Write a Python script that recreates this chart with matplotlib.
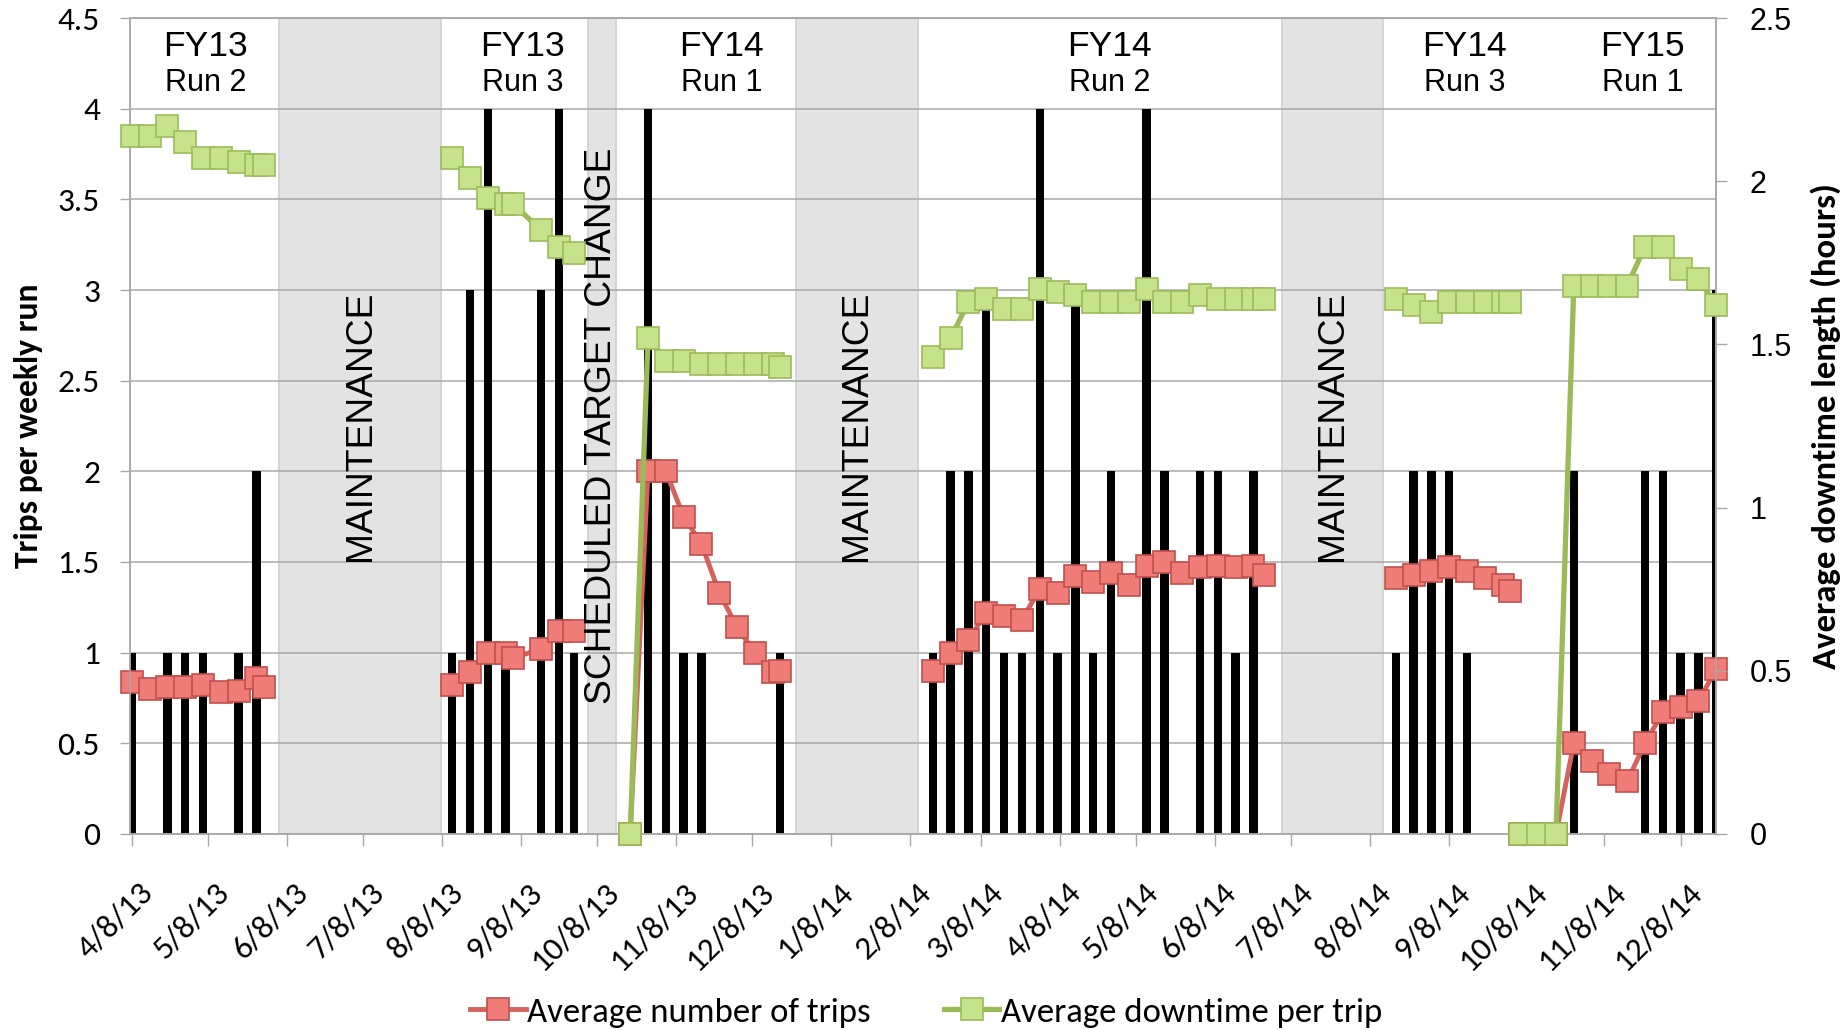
import pandas as pd
import numpy as np
import matplotlib
matplotlib.use('Agg')
import matplotlib.pyplot as plt
import matplotlib.dates as mdates
import matplotlib.transforms as mtransforms
from matplotlib import font_manager

installed = {f.name for f in font_manager.fontManager.ttflist}
calibri_like = 'Carlito' if 'Carlito' in installed else 'Lato'
narrow_font = 'Liberation Sans Narrow' if 'Liberation Sans Narrow' in installed else 'Liberation Sans'
narrow_size = 30 if narrow_font == 'Liberation Sans Narrow' else 26.8

# one entry per weekly run
week = [
    # FY13 run 2
    '2013-04-08', '2013-04-15', '2013-04-22', '2013-04-29', '2013-05-06',
    '2013-05-13', '2013-05-20', '2013-05-27', '2013-05-30',
    # FY13 run 3
    '2013-08-12', '2013-08-19', '2013-08-26', '2013-09-02', '2013-09-05',
    '2013-09-16', '2013-09-23', '2013-09-29',
    # FY14 run 1
    '2013-10-21', '2013-10-28', '2013-11-04', '2013-11-11', '2013-11-18',
    '2013-11-25', '2013-12-02', '2013-12-09', '2013-12-16', '2013-12-19',
    # FY14 run 2
    '2014-02-17', '2014-02-24', '2014-03-03', '2014-03-10', '2014-03-17',
    '2014-03-24', '2014-03-31', '2014-04-07', '2014-04-14', '2014-04-21',
    '2014-04-28', '2014-05-05', '2014-05-12', '2014-05-19', '2014-05-26',
    '2014-06-02', '2014-06-09', '2014-06-16', '2014-06-23', '2014-06-27',
    # FY14 run 3
    '2014-08-18', '2014-08-25', '2014-09-01', '2014-09-08', '2014-09-15',
    '2014-09-22', '2014-09-29', '2014-10-02',
    # FY15 run 1
    '2014-10-06', '2014-10-13', '2014-10-20', '2014-10-27', '2014-11-03',
    '2014-11-10', '2014-11-17', '2014-11-24', '2014-12-01', '2014-12-08',
    '2014-12-15', '2014-12-22',
]
run_sizes = [9, 8, 10, 20, 8, 12]  # number of weeks in each run

trips = [1, 0, 1, 1, 1, 0, 1, 2, 0,
         1, 3, 4, 1, 0, 3, 4, 1,
         0, 4, 2, 1, 1, 0, 0, 0, 0, 1,
         1, 2, 2, 3, 1, 1, 4, 1, 3, 1, 2, 0, 4, 2, 0, 2, 2, 1, 2, 0,
         1, 2, 2, 2, 1, 0, 0, 0,
         0, 0, 0, 2, 0, 0, 0, 2, 2, 1, 1, 3]

avg_trips = [0.84, 0.80, 0.81, 0.81, 0.82, 0.78, 0.79, 0.86, 0.81,
             0.82, 0.89, 1.0, 1.0, 0.97, 1.02, 1.12, 1.12,
             0, 2.0, 2.0, 1.75, 1.6, 1.33, 1.14, 1.0, 0.89, 0.9,
             0.9, 1.0, 1.07, 1.22, 1.2, 1.18, 1.35, 1.33, 1.42, 1.39,
             1.44, 1.37, 1.48, 1.5, 1.44, 1.47, 1.48, 1.47, 1.48, 1.43,
             1.41, 1.43, 1.45, 1.47, 1.45, 1.41, 1.37, 1.34,
             0, 0, 0, 0.5, 0.4, 0.33, 0.29, 0.5, 0.67, 0.7, 0.73, 0.91]

avg_downtime = [2.14, 2.14, 2.17, 2.12, 2.07, 2.07, 2.06, 2.05, 2.05,
                2.07, 2.01, 1.95, 1.93, 1.93, 1.85, 1.80, 1.78,
                0, 1.52, 1.45, 1.45, 1.44, 1.44, 1.44, 1.44, 1.44, 1.43,
                1.46, 1.52, 1.63, 1.64, 1.61, 1.61, 1.67, 1.66, 1.65, 1.63,
                1.63, 1.63, 1.67, 1.63, 1.63, 1.65, 1.64, 1.64, 1.64, 1.64,
                1.64, 1.62, 1.60, 1.63, 1.63, 1.63, 1.63, 1.63,
                0, 0, 0, 1.68, 1.68, 1.68, 1.68, 1.80, 1.80, 1.73, 1.70, 1.62]

# run headers
run_fy = ['FY13', 'FY13', 'FY14', 'FY14', 'FY14', 'FY15']
run_name = ['Run 2', 'Run 3', 'Run 1', 'Run 2', 'Run 3', 'Run 1']
run_label_at = ['2013-05-07', '2013-09-08 14:00', '2013-11-26', '2014-04-27 08:00',
                '2014-09-14', '2014-11-23']

# shutdown periods
shade_start = ['2013-06-05', '2013-10-04 10:00', '2013-12-25 02:00', '2014-07-04 05:00']
shade_end = ['2013-08-07 14:00', '2013-10-15 07:00', '2014-02-11 05:00', '2014-08-13']
shade_text = ['MAINTENANCE', 'SCHEDULED TARGET CHANGE', 'MAINTENANCE', 'MAINTENANCE']

df = pd.DataFrame({'week': pd.to_datetime(week), 'trips': trips,
                   'avg_trips': avg_trips, 'avg_downtime': avg_downtime})
df['run'] = np.repeat(np.arange(len(run_sizes)), run_sizes)

red_line = '#d5625c'
red_face = '#f07c77'
red_edge = '#c0504d'
green_line = '#9bbb59'
green_face = '#c6e28a'
green_edge = '#9bbb59'
grid_gray = '#a8a8a8'

fig = plt.figure(figsize=(18.45, 10.30), dpi=100)
ax = fig.add_axes([0.0707, 0.1905, 0.8594, 0.7919])
ax2 = ax.twinx()

# shaded periods
for s, e, t in zip(shade_start, shade_end, shade_text):
    s, e = pd.Timestamp(s), pd.Timestamp(e)
    ax.axvspan(s, e, facecolor='#e3e3e3', edgecolor='#d0d0d0', lw=1.2, zorder=0.3)
    ax.text(s + (e - s) / 2, 2.25, t, rotation=90, ha='center', va='center',
            fontsize=narrow_size, family=[narrow_font, 'DejaVu Sans'], zorder=5)

ax.bar(df['week'], df['trips'], width=3.3, color='black', zorder=2)

for r, grp in df.groupby('run'):
    ax.plot(grp['week'], grp['avg_trips'], color=red_line, lw=3.5, marker='s',
            markersize=16.5, markerfacecolor=red_face, markeredgecolor=red_edge,
            markeredgewidth=1.2, clip_on=False, zorder=3,
            label='Average number of trips' if r == 0 else None)
    ax2.plot(grp['week'], grp['avg_downtime'], color=green_line, lw=3.8, marker='s',
             markersize=16.5, markerfacecolor=green_face, markeredgecolor=green_edge,
             markeredgewidth=1.2, clip_on=False, zorder=3,
             label='Average downtime per trip' if r == 0 else None)

for fy, rn, x in zip(run_fy, run_name, run_label_at):
    ax.text(pd.Timestamp(x), 4.345, fy, ha='center', va='center', fontsize=25.5,
            family='Liberation Sans', zorder=5)
    ax.text(pd.Timestamp(x), 4.14, rn, ha='center', va='center', fontsize=22,
            family='Liberation Sans', zorder=5)

ax.set_xlim(pd.Timestamp('2013-04-07 12:00'), pd.Timestamp('2014-12-21 22:00'))
ax.set_ylim(0, 4.5)
ax2.set_ylim(0, 2.5)
ax.set_yticks(np.arange(0, 4.51, 0.5))
ax2.set_yticks(np.arange(0, 2.51, 0.5))
ax.yaxis.set_major_formatter(plt.FuncFormatter(lambda v, p: f'{v:g}'))
ax2.yaxis.set_major_formatter(plt.FuncFormatter(lambda v, p: f'{v:g}'))

ax.xaxis.set_major_locator(mdates.MonthLocator(bymonthday=8))
ax.xaxis.set_major_formatter(plt.FuncFormatter(
    lambda v, p: '{d.month}/{d.day}/{d:%y}'.format(d=mdates.num2date(v))))

ax.set_axisbelow(True)
ax.yaxis.grid(True, color=grid_gray, lw=1.1)
for a in (ax, ax2):
    for sp in a.spines.values():
        sp.set_color(grid_gray)
        sp.set_linewidth(1.1)

ax.tick_params(axis='y', direction='out', length=7, width=1, color=grid_gray,
               labelsize=24, pad=15)
ax2.tick_params(axis='y', direction='out', length=8, width=1, color=grid_gray,
                labelsize=22, pad=16)
ax.tick_params(axis='x', direction='out', length=8.5, width=1, color=grid_gray,
               labelsize=24, pad=23)
for lab in ax.get_yticklabels() + ax.get_xticklabels():
    lab.set_family(calibri_like)
for lab in ax2.get_yticklabels():
    lab.set_family('Liberation Sans')

offset = mtransforms.ScaledTranslation(0.065, 0, fig.dpi_scale_trans)
for lab in ax.get_xticklabels():
    lab.set_rotation(45)
    lab.set_ha('right')
    lab.set_va('top')
    lab.set_rotation_mode('anchor')
    lab.set_transform(lab.get_transform() + offset)

ax.set_ylabel('Trips per weekly run', fontsize=24.2, fontweight='bold', family=calibri_like)
ax.yaxis.set_label_coords(-0.055, 0.5)
ax2.set_ylabel('Average downtime length (hours)', fontsize=25, fontweight='bold',
               family=calibri_like)
ax2.yaxis.set_label_coords(1.0593, 0.5)

h1, l1 = ax.get_legend_handles_labels()
h2, l2 = ax2.get_legend_handles_labels()
fig.legend(h1 + h2, l1 + l2, loc='lower center', bbox_to_anchor=(0.502, -0.028),
           ncol=2, frameon=False, handlelength=1.6, handletextpad=0.05,
           columnspacing=2.1, prop={'family': calibri_like, 'size': 25})

fig.savefig('out.png', dpi=100)
